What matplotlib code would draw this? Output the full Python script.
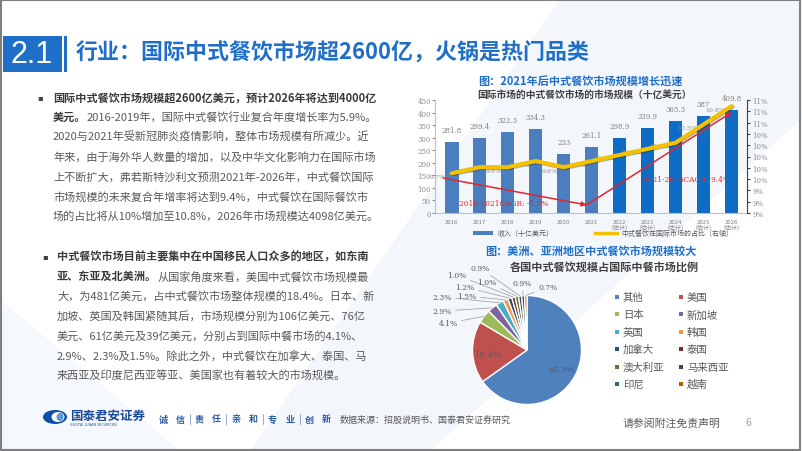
import numpy as np
import matplotlib
matplotlib.use("Agg")
import matplotlib.pyplot as plt
import matplotlib.patheffects as pe
from matplotlib.patches import Rectangle, Polygon, Ellipse
from matplotlib.lines import Line2D

plt.rcParams['font.family'] = ['Noto Sans CJK SC', 'DejaVu Sans']

W, H = 802, 452
BLUE = "#1f6fc8"
GRAY = "#595959"

# bar chart data
years = ["2016", "2017", "2018", "2019", "2020", "2021",
         "2022\n（估计）", "2023\n（估计）", "2024\n（估计）", "2025\n（估计）", "2026\n（估计）"]
revenue = [281.8, 299.4, 322.3, 334.3, 233, 261.1, 298.9, 339.9, 365.3, 387, 409.8]
share = [9.7, 9.8, 9.8, 9.9, 9.8, 9.9, 10.0, 10.1, 10.2, 10.5, 10.8]
n_actual = 6
# hand drawn CAGR arrows (left axis units)
cagr_x = [-0.3, 4.82, 10.0]
cagr_y = [139, 32, 401]
cagr_text = ["2016-2021CAGR: -1.5%", "2021-2026CAGR: 9.4%"]

# pie data
countries = ["其他", "美国", "日本", "新加坡", "英国", "韩国",
             "加拿大", "泰国", "澳大利亚", "马来西亚", "印尼", "越南"]
country_share = [65.3, 18.4, 4.1, 2.9, 2.3, 1.5, 1.2, 1.0, 1.0, 0.9, 0.9, 0.7]
pie_colors = ["#4f81bd", "#c0504d", "#9bbb59", "#8064a2", "#4bacc6", "#f79646",
              "#2c4d75", "#772c2a", "#5f7530", "#4d3b62", "#276a7c", "#b65708"]

para1 = [
    ("国际中式餐饮市场规模超2600亿美元，预计2026年将达到4000亿", ""),
    ("美元。", "2016-2019年，国际中式餐饮行业复合年度增长率为5.9%。"),
    ("", "2020与2021年受新冠肺炎疫情影响，整体市场规模有所减少。近"),
    ("", "年来，由于海外华人数量的增加，以及中华文化影响力在国际市场"),
    ("", "上不断扩大，弗若斯特沙利文预测2021年-2026年，中式餐饮国际"),
    ("", "市场规模的未来复合年增率将达到9.4%，中式餐饮在国际餐饮市"),
    ("", "场的占比将从10%增加至10.8%，2026年市场规模达4098亿美元。"),
]
para2 = [
    ("中式餐饮市场目前主要集中在中国移民人口众多的地区，如东南", ""),
    ("亚、东亚及北美洲。", "从国家角度来看，美国中式餐饮市场规模最"),
    ("", "大，为481亿美元，占中式餐饮市场整体规模的18.4%。日本、新"),
    ("", "加坡、英国及韩国紧随其后，市场规模分别为106亿美元、76亿"),
    ("", "美元、61亿美元及39亿美元，分别占到国际中餐市场的4.1%、"),
    ("", "2.9%、2.3%及1.5%。除此之外，中式餐饮在加拿大、泰国、马"),
    ("", "来西亚及印度尼西亚等亚、美国家也有着较大的市场规模。"),
]


def fx(x):
    return x / W


def fy(y):
    return 1 - y / H


fig = plt.figure(figsize=(W / 100, H / 100), dpi=100)
fig.patch.set_facecolor("white")

# faint background shapes
fig.patches.append(Polygon([(fx(250), fy(452)), (fx(560), fy(0)), (fx(802), fy(0)),
                            (fx(802), fy(120)), (fx(430), fy(452))],
                           closed=True, transform=fig.transFigure, facecolor="#f3f7fc",
                           edgecolor="none", zorder=-5))
fig.patches.append(Polygon([(fx(0), fy(300)), (fx(0), fy(452)), (fx(180), fy(452))],
                           closed=True, transform=fig.transFigure, facecolor="#f5f8fc",
                           edgecolor="none", zorder=-5))

# header
fig.patches.append(Rectangle((fx(3), fy(73)), 59 / W, 36 / H, transform=fig.transFigure,
                             facecolor=BLUE, edgecolor="none"))
fig.patches.append(Rectangle((fx(64), fy(73)), 3 / W, 36 / H, transform=fig.transFigure,
                             facecolor=BLUE, edgecolor="none"))
fig.text(fx(32), fy(55), "2.1", color="white", fontsize=22, ha="center", va="center",
         family=["Liberation Sans", "DejaVu Sans"])
fig.text(fx(76), fy(53), "行业：国际中式餐饮市场超2600亿，火锅是热门品类", color=BLUE,
         fontsize=15.8, fontweight="bold", ha="left", va="center")

# left text
fig.canvas.draw()
renderer = fig.canvas.get_renderer()


def paragraph(lines, x_text, x_bullet, y0, step=19.8):
    fig.text(fx(x_bullet), fy(y0), "▪", color="#404040", fontsize=6, ha="center", va="center",
             family=["DejaVu Sans"])
    for i, (bold, normal) in enumerate(lines):
        y = y0 + i * step
        x = x_text
        if bold:
            t = fig.text(fx(x), fy(y), bold, color="#3a3a3a", fontsize=8.0,
                         fontweight="bold", ha="left", va="center")
            x += t.get_window_extent(renderer).width
        if normal:
            fig.text(fx(x), fy(y), normal, color=GRAY, fontsize=8.0, ha="left", va="center")


paragraph(para1, 53, 40, 98)
paragraph(para2, 57, 45, 257)

# ---- bar + line chart ----
fig.text(fx(580), fy(82), "图：2021年后中式餐饮市场规模增长迅速", color=BLUE, fontsize=8,
         fontweight="bold", ha="center", va="center")
fig.text(fx(585), fy(95), "国际市场的中式餐饮市场的市场规模（十亿美元）", color="#404040",
         fontsize=7, fontweight="bold", ha="center", va="center")

ax = fig.add_axes([fx(435), fy(214), 312 / W, 113 / H])
ax.set_facecolor("none")
x = np.arange(len(years))
bar_colors = ["#4a7ebf"] * n_actual + ["#0e6cc4"] * (len(years) - n_actual)
ax.bar(x, revenue, width=0.48, color=bar_colors, zorder=2)
for xi, v in zip(x, revenue):
    ax.annotate(f"{v:g}", (xi, v), xytext=(0, 8), textcoords="offset pixels",
                ha="center", va="bottom", fontsize=5, color="#7f7f7f",
                family=["DejaVu Serif"])
ax.set_xlim(-0.6, 10.55)
ax.set_ylim(0, 450)
ax.set_yticks(np.arange(0, 451, 50))
ax.set_xticks(x)
ax.set_xticklabels(years, fontsize=4.3, color="#7f7f7f", linespacing=1.1)
ax.tick_params(axis="x", length=0, pad=4)
ax.tick_params(axis="y", labelsize=5, colors="#8c8c8c", length=2, pad=1)
for lab in ax.get_yticklabels():
    lab.set_family(["DejaVu Serif"])
for s in ["top", "right"]:
    ax.spines[s].set_visible(False)
ax.spines["left"].set_color("#bfbfbf")
ax.spines["bottom"].set_color("#bfbfbf")

ax2 = ax.twinx()
ax2.set_ylim(9.05, 10.9)
rt = np.linspace(9.05, 10.9, 11)
ax2.set_yticks(rt)
ax2.set_yticklabels([f"{v:.0f}%" for v in rt], fontsize=5, color="#8c8c8c",
                    family=["DejaVu Serif"])
ax2.tick_params(axis="y", length=2, pad=2, colors="#404040", labelcolor="#8c8c8c")
for s in ["top", "left", "bottom"]:
    ax2.spines[s].set_visible(False)
ax2.spines["right"].set_color("#404040")
ax2.plot(x, share, color="#f5c000", lw=3, zorder=4, solid_capstyle="round",
         path_effects=[pe.SimpleLineShadow(offset=(0.6, -0.6), alpha=0.3), pe.Normal()])
for xi, v in zip(x, share):
    ax2.annotate(f"{v:.1f}%", (xi, v), xytext=(-6, -3), textcoords="offset pixels",
                 ha="right", va="center", fontsize=4.5, color="#8c8c8c",
                 family=["DejaVu Serif"])

# CAGR arrows and labels
red = "#e3262b"
ax3 = ax.twinx()
ax3.set_ylim(0, 450)
ax3.axis("off")
for i in range(2):
    ax3.annotate("", xy=(cagr_x[i + 1], cagr_y[i + 1]), xytext=(cagr_x[i], cagr_y[i]),
                 arrowprops=dict(arrowstyle="-|>", color=red, lw=1.1,
                                 mutation_scale=7, shrinkA=0, shrinkB=0))
ax3.text(0.26, 40, cagr_text[0], color=red, fontsize=5.4, ha="left", va="center",
         family=["DejaVu Serif"])
ax3.text(6.83, 135, cagr_text[1], color=red, fontsize=5.4, ha="left", va="center",
         family=["DejaVu Serif"])

# bar chart legend
fig.patches.append(Rectangle((fx(473), fy(236)), 20 / W, 4 / H, transform=fig.transFigure,
                             facecolor="#4a7ebf", edgecolor="none"))
fig.text(fx(498), fy(234), "收入（十亿美元）", fontsize=5, color=GRAY, ha="left", va="center")
fig.lines.append(Line2D([fx(595), fx(617)], [fy(234), fy(234)], transform=fig.transFigure,
                        color="#f5c000", lw=2.5))
fig.text(fx(621), fy(234), "中式餐饮在国际市场的占比（右轴）", fontsize=5, color=GRAY,
         ha="left", va="center")

# ---- pie chart ----
fig.text(fx(591), fy(251), "图：美洲、亚洲地区中式餐饮市场规模较大", color=BLUE, fontsize=8,
         fontweight="bold", ha="center", va="center")
fig.text(fx(604), fy(267), "各国中式餐饮规模占国际中餐市场比例", color="#404040",
         fontsize=8, fontweight="bold", ha="center", va="center")

cx, cy, r = 527, 351, 54.5
pax = fig.add_axes([fx(cx - r), fy(cy + r), 2 * r / W, 2 * r / H])
wedges, _ = pax.pie(country_share, colors=pie_colors, startangle=90, counterclock=False,
                    radius=1, wedgeprops=dict(edgecolor="white", linewidth=1))
pax.set_xlim(-1, 1)
pax.set_ylim(-1, 1)
pax.set_aspect("equal")
pax.axis("off")

# label positions in pixels (layout only)
label_px = [(562, 370), (488, 355), (448, 324), (442, 312), (442, 298), (467, 297),
            (465, 288), (457, 276), (487, 283), (480, 269), (522, 284), (548, 288)]
for i, (w, v) in enumerate(zip(wedges, country_share)):
    lx = (label_px[i][0] - cx) / r
    ly = (cy - label_px[i][1]) / r
    txt = f"{v:.1f}%"
    if i < 2:
        pax.text(lx, ly, txt, fontsize=6, color=GRAY, ha="center", va="center",
                 family=["DejaVu Serif"])
    else:
        ang = np.deg2rad((w.theta1 + w.theta2) / 2)
        pax.annotate(txt, xy=(np.cos(ang), np.sin(ang)), xytext=(lx, ly),
                     fontsize=5.5, color=GRAY, ha="center", va="center",
                     family=["DejaVu Serif"], annotation_clip=False,
                     arrowprops=dict(arrowstyle="-", color="#a6a6a6", lw=0.6,
                                     shrinkA=1, shrinkB=0))

# pie legend
for i, (name, col) in enumerate(zip(countries, pie_colors)):
    row, c = divmod(i, 2)
    y = 298 + row * 17.4
    mx = 617 if c == 0 else 681
    fig.patches.append(Rectangle((fx(mx - 2), fy(y + 2)), 4 / W, 4 / H,
                                 transform=fig.transFigure, facecolor=col, edgecolor="none"))
    fig.text(fx(mx + 6), fy(y), name, fontsize=7.5, color=GRAY, ha="left", va="center")

# ---- footer ----
fig.patches.append(Ellipse((fx(55), fy(418)), 24 / W, 14 / H, transform=fig.transFigure,
                           facecolor="#0d4ea6", edgecolor="none"))
fig.patches.append(Ellipse((fx(58), fy(418)), 13 / W, 10 / H, transform=fig.transFigure,
                           facecolor="white", edgecolor="none"))
fig.patches.append(Ellipse((fx(60), fy(418)), 7 / W, 8 / H, transform=fig.transFigure,
                           facecolor="#5b9bd5", edgecolor="none"))
fig.text(fx(70), fy(416), "国泰君安证券", color="#1a4b9c", fontsize=9, fontweight="bold",
         ha="left", va="center")
fig.text(fx(70), fy(425.5), "GUOTAI JUNAN SECURITIES", color="#1a4b9c", fontsize=2.6,
         ha="left", va="center")
slogan = ["诚信", "责任", "亲和", "专业", "创新"]
for i, word in enumerate(slogan):
    x0 = 163 + i * 36.5
    fig.text(fx(x0), fy(420), word[0], color="#2b5ca8", fontsize=6.5, fontweight="bold",
             ha="center", va="center")
    fig.text(fx(x0 + 17), fy(420), word[1], color="#2b5ca8", fontsize=6.5, fontweight="bold",
             ha="center", va="center")
    if i < 4:
        fig.lines.append(Line2D([fx(x0 + 27), fx(x0 + 27)], [fy(415), fy(425)],
                                transform=fig.transFigure, color="#7f9fd0", lw=0.6))
fig.text(fx(340), fy(420), "数据来源：招股说明书、国泰君安证券研究", color=GRAY, fontsize=6.5,
         ha="left", va="center")
fig.text(fx(623), fy(423), "请参阅附注免责声明", color=GRAY, fontsize=7.8, ha="left", va="center")
fig.text(fx(748), fy(423), "6", color="#a0a0a0", fontsize=7.5, ha="center", va="center")

# slide border
fig.patches.append(Rectangle((0.001, 0.002), 0.997, 0.996, transform=fig.transFigure,
                             facecolor="none", edgecolor="#7f7f7f", lw=1.5, zorder=10))

fig.savefig("out.png", dpi=100, facecolor="white")
